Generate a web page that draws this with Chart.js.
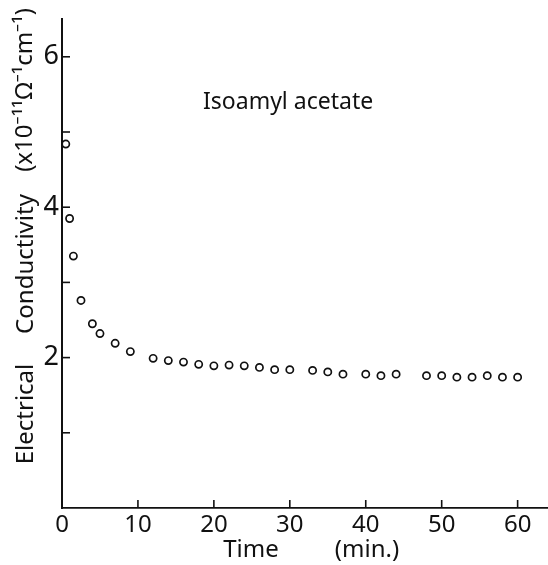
<!DOCTYPE html>
<html>
<head>
<meta charset="utf-8">
<script src="https://cdn.jsdelivr.net/npm/chart.js@4.4.1/dist/chart.umd.min.js"></script>
<style>
  html, body { margin: 0; padding: 0; background: #fff; }
  #wrap { width: 548px; height: 565px; }
</style>
</head>
<body>
<div id="wrap"><canvas id="chart" width="548" height="565"></canvas></div>
<script>
// values
const timeMin = [0.5, 1, 1.5, 2.5, 4, 5, 7, 9, 12, 14, 16, 18, 20, 22, 24, 26, 28, 30,
  33, 35, 37, 40, 42, 44, 48, 50, 52, 54, 56, 58, 60];
const conductivity = [4.84, 3.85, 3.35, 2.76, 2.45, 2.32, 2.19, 2.08, 1.99, 1.96, 1.94, 1.91,
  1.89, 1.9, 1.89, 1.87, 1.84, 1.84, 1.83, 1.81, 1.78, 1.78, 1.76, 1.78, 1.76, 1.76, 1.74,
  1.74, 1.76, 1.74, 1.74];
const xTicks = [0, 10, 20, 30, 40, 50, 60];
const yTicks = [1, 2, 3, 4, 5, 6];
const yLabelled = [2, 4, 6];

const FONT = '"Noto Sans", "DejaVu Sans", sans-serif';

// ticks point inward on this plot, and the text sits freely round the axes
const extras = {
  id: 'extras',
  afterDraw(chart) {
    const { ctx, scales: { x, y } } = chart;
    ctx.save();
    ctx.strokeStyle = '#111';
    ctx.lineWidth = 1.6;
    x.ticks.forEach((t) => {
      const px = x.getPixelForValue(t.value);
      ctx.beginPath();
      ctx.moveTo(px, y.bottom);
      ctx.lineTo(px, y.bottom - 8);
      ctx.stroke();
    });
    y.ticks.forEach((t) => {
      const py = y.getPixelForValue(t.value);
      ctx.beginPath();
      ctx.moveTo(x.left, py);
      ctx.lineTo(x.left + 8, py);
      ctx.stroke();
    });

    ctx.fillStyle = '#111';
    ctx.textBaseline = 'middle';

    ctx.font = '23px ' + FONT;
    ctx.textAlign = 'left';
    ctx.fillText('Isoamyl acetate', 203, 102);

    ctx.font = '24px ' + FONT;
    ctx.textAlign = 'center';
    ctx.fillText('Time', 251, 550);
    ctx.fillText('(min.)', 367, 550);

    ctx.translate(26, 0);
    ctx.rotate(-Math.PI / 2);
    ctx.fillText('Electrical', -414, 0);
    ctx.fillText('Conductivity', -264, 0);
    ctx.fillText('(x10\u207B\u00B9\u00B9\u03A9\u207B\u00B9cm\u207B\u00B9)', -90, -1);
    ctx.restore();
  },
};

new Chart(document.getElementById('chart'), {
  type: 'scatter',
  data: {
    datasets: [
      {
        data: timeMin.map((t, i) => ({ x: t, y: conductivity[i] })),
        pointStyle: 'circle',
        pointRadius: 3.6,
        pointBorderWidth: 1.7,
        pointBorderColor: '#111',
        pointBackgroundColor: 'rgba(0,0,0,0)',
      },
    ],
  },
  options: {
    responsive: false,
    animation: false,
    layout: { autoPadding: false, padding: { left: 0, right: 0, top: 18, bottom: 0 } },
    plugins: { legend: { display: false }, tooltip: { enabled: false } },
    scales: {
      x: {
        type: 'linear',
        min: 0,
        max: 64,
        afterFit: (s) => { s.height = 57; },
        afterBuildTicks: (s) => { s.ticks = xTicks.map((v) => ({ value: v })); },
        grid: { display: false, drawTicks: false },
        border: { display: true, color: '#111', width: 1.8 },
        ticks: {
          color: '#111',
          padding: 3,
          maxRotation: 0,
          font: { family: FONT, size: 24 },
        },
      },
      y: {
        type: 'linear',
        min: 0,
        max: 6.5,
        afterFit: (s) => { s.width = 62; },
        afterBuildTicks: (s) => { s.ticks = yTicks.map((v) => ({ value: v })); },
        grid: { display: false, drawTicks: false },
        border: { display: true, color: '#111', width: 2 },
        ticks: {
          color: '#111',
          padding: 3,
          font: { family: FONT, size: 27 },
          callback: (v) => (yLabelled.includes(v) ? v : ''),
        },
      },
    },
  },
  plugins: [extras],
});
</script>
</body>
</html>
